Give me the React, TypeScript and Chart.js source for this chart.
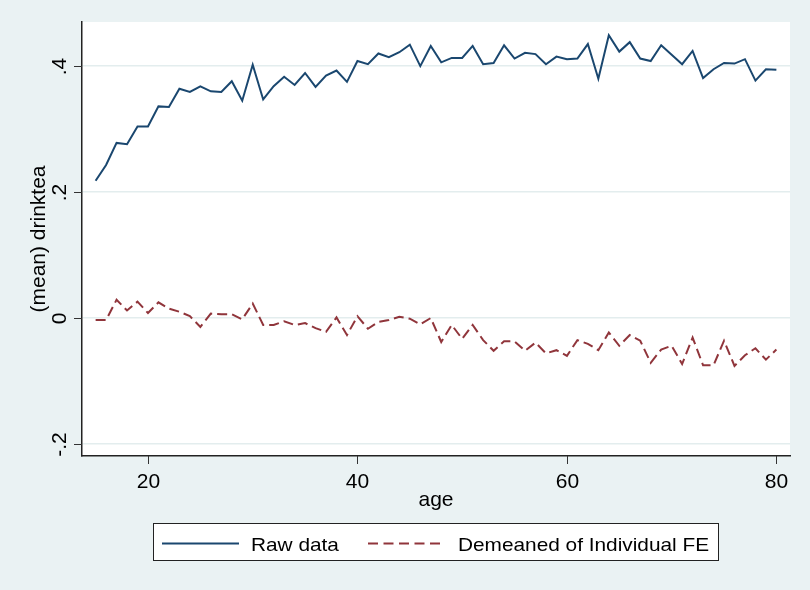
import React, { useEffect, useRef } from "react";
import { Chart, registerables } from "chart.js";

Chart.register(...registerables);

const ages = [
  15, 16, 17, 18, 19, 20, 21, 22, 23, 24, 25, 26, 27, 28, 29, 30, 31, 32, 33, 34, 35, 36,
  37, 38, 39, 40, 41, 42, 43, 44, 45, 46, 47, 48, 49, 50, 51, 52, 53, 54, 55, 56, 57, 58,
  59, 60, 61, 62, 63, 64, 65, 66, 67, 68, 69, 70, 71, 72, 73, 74, 75, 76, 77, 78, 79, 80,
];

const rawData = [
  0.218, 0.243, 0.278, 0.276, 0.304, 0.304, 0.336, 0.335, 0.364, 0.359, 0.368, 0.36,
  0.359, 0.376, 0.345, 0.402, 0.347, 0.368, 0.383, 0.37, 0.389, 0.367, 0.385, 0.393,
  0.375, 0.408, 0.403, 0.42, 0.414, 0.422, 0.434, 0.4, 0.432, 0.406, 0.413, 0.413,
  0.432, 0.403, 0.405, 0.433, 0.412, 0.421, 0.419, 0.403, 0.415, 0.411, 0.412, 0.435,
  0.38, 0.449, 0.423, 0.438, 0.412, 0.408, 0.433, 0.418, 0.403, 0.424, 0.381, 0.395,
  0.405, 0.404, 0.411, 0.377, 0.395, 0.394,
];

const demeaned = [
  -0.003, -0.003, 0.029, 0.012, 0.026, 0.008, 0.025, 0.015, 0.01, 0.003, -0.014, 0.007,
  0.006, 0.006, -0.002, 0.023, -0.011, -0.011, -0.005, -0.011, -0.008, -0.016, -0.022,
  0.001, -0.027, 0.003, -0.017, -0.006, -0.003, 0.002, -0.001, -0.01, 0.0, -0.038,
  -0.011, -0.033, -0.011, -0.035, -0.052, -0.037, -0.037, -0.052, -0.039, -0.056,
  -0.051, -0.06, -0.035, -0.041, -0.051, -0.023, -0.044, -0.027, -0.036, -0.071, -0.05,
  -0.044, -0.073, -0.031, -0.075, -0.075, -0.036, -0.076, -0.059, -0.048, -0.066, -0.05,
];

const xTicks = [20, 40, 60, 80];
const xTickLabels = ["20", "40", "60", "80"];
const yTicks = [-0.2, 0, 0.2, 0.4];
const yTickLabels = ["-.2", "0", ".2", ".4"];

const seriesNames = ["Raw data", "Demeaned of Individual FE"];
const xTitle = "age";
const yTitle = "(mean) drinktea";

const BG = "#EAF2F3";
const BLUE = "#1a476f";
const RED = "#90353b";
const FONT = '"Liberation Sans", Arial, sans-serif';

export default function App() {
  const ref = useRef<HTMLCanvasElement | null>(null);

  useEffect(() => {
    if (!ref.current) return;

    const decor = {
      id: "stataDecor",
      beforeDraw(chart: any) {
        const { ctx, chartArea } = chart;
        ctx.save();
        ctx.fillStyle = BG;
        ctx.fillRect(0, 0, chart.width, chart.height);
        ctx.fillStyle = "#ffffff";
        ctx.fillRect(
          chartArea.left,
          chartArea.top,
          chartArea.right - chartArea.left,
          chartArea.bottom - chartArea.top
        );
        ctx.restore();
      },
      afterDraw(chart: any) {
        const { ctx, chartArea } = chart;
        const xs = chart.scales.x;
        const ys = chart.scales.y;
        ctx.save();
        ctx.strokeStyle = "#333";
        ctx.lineWidth = 1;
        ctx.fillStyle = "#000";
        ctx.font = `21px ${FONT}`;

        // x ticks
        xTicks.forEach((v, i) => {
          const px = Math.round(xs.getPixelForValue(v)) + 0.5;
          ctx.beginPath();
          ctx.moveTo(px, chartArea.bottom);
          ctx.lineTo(px, chartArea.bottom + 8);
          ctx.stroke();
          ctx.textAlign = "center";
          ctx.textBaseline = "alphabetic";
          ctx.fillText(xTickLabels[i], px, chartArea.bottom + 32);
        });

        // y ticks
        yTicks.forEach((v, i) => {
          const py = Math.round(ys.getPixelForValue(v)) + 0.5;
          ctx.beginPath();
          ctx.moveTo(chartArea.left, py);
          ctx.lineTo(chartArea.left - 8, py);
          ctx.stroke();
          ctx.save();
          ctx.translate(chartArea.left - 16, py);
          ctx.rotate(-Math.PI / 2);
          ctx.textAlign = "center";
          ctx.textBaseline = "alphabetic";
          ctx.fillText(yTickLabels[i], 0, 0);
          ctx.restore();
        });

        // axis titles
        ctx.textAlign = "center";
        ctx.textBaseline = "alphabetic";
        ctx.fillText(xTitle, (chartArea.left + chartArea.right) / 2, chartArea.bottom + 50);
        ctx.save();
        ctx.translate(chartArea.left - 37, (chartArea.top + chartArea.bottom) / 2);
        ctx.rotate(-Math.PI / 2);
        ctx.fillText(yTitle, 0, 0);
        ctx.restore();

        // legend
        const bx = 153.5, by = 523.5, bw = 565, bh = 37;
        ctx.fillStyle = "#ffffff";
        ctx.fillRect(bx, by, bw, bh);
        ctx.strokeStyle = "#222";
        ctx.lineWidth = 1;
        ctx.strokeRect(bx, by, bw, bh);

        const midY = 543.5;
        ctx.lineWidth = 2;
        ctx.strokeStyle = BLUE;
        ctx.beginPath();
        ctx.moveTo(162, midY);
        ctx.lineTo(239, midY);
        ctx.stroke();

        ctx.strokeStyle = RED;
        ctx.setLineDash([10, 5.5]);
        ctx.beginPath();
        ctx.moveTo(368, midY);
        ctx.lineTo(445, midY);
        ctx.stroke();
        ctx.setLineDash([]);

        ctx.fillStyle = "#000";
        ctx.font = `18.5px ${FONT}`;
        ctx.textAlign = "left";
        const drawStretched = (t: string, x: number, y: number) => {
          ctx.save();
          ctx.translate(x, y);
          ctx.scale(1.125, 1);
          ctx.fillText(t, 0, 0);
          ctx.restore();
        };
        drawStretched(seriesNames[0], 251, 551);
        drawStretched(seriesNames[1], 458, 551);

        ctx.restore();
      },
    };

    const chart = new Chart(ref.current, {
      type: "line",
      data: {
        datasets: [
          {
            label: seriesNames[0],
            data: ages.map((a, i) => ({ x: a, y: rawData[i] })),
            borderColor: BLUE,
            borderWidth: 2,
            pointRadius: 0,
            fill: false,
            tension: 0,
          },
          {
            label: seriesNames[1],
            data: ages.map((a, i) => ({ x: a, y: demeaned[i] })),
            borderColor: RED,
            borderWidth: 2,
            borderDash: [10, 5],
            pointRadius: 0,
            fill: false,
            tension: 0,
          },
        ],
      },
      options: {
        animation: false,
        responsive: false,
        maintainAspectRatio: false,
        layout: { padding: { left: 82, right: 20, top: 22, bottom: 134 } },
        plugins: {
          legend: { display: false },
          tooltip: { enabled: false },
        },
        scales: {
          x: {
            type: "linear",
            min: 13.7,
            max: 81.3,
            afterBuildTicks: (s: any) => {
              s.ticks = xTicks.map((v) => ({ value: v }));
            },
            ticks: { display: false },
            grid: { display: false, drawTicks: false },
            border: { display: true, color: "#222", width: 1.5 },
          },
          y: {
            type: "linear",
            min: -0.219,
            max: 0.47,
            afterBuildTicks: (s: any) => {
              s.ticks = yTicks.map((v) => ({ value: v }));
            },
            ticks: { display: false },
            grid: { display: true, drawTicks: false, color: "#E3EDEE", lineWidth: 1.5 },
            border: { display: true, color: "#222", width: 1.5 },
          },
        },
      },
      plugins: [decor],
    });

    return () => chart.destroy();
  }, []);

  return (
    <div style={{ position: "fixed", left: 0, top: 0, width: 810, height: 590, background: BG }}>
      <canvas ref={ref} width={810} height={590} style={{ width: 810, height: 590, display: "block" }} />
    </div>
  );
}
